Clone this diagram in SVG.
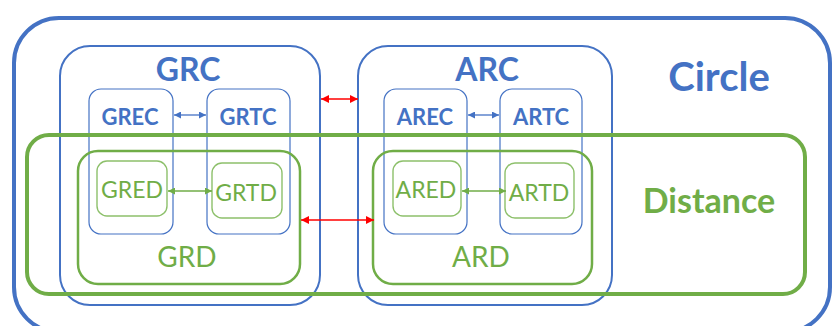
<svg xmlns="http://www.w3.org/2000/svg" width="833" height="326" viewBox="0 0 833 326">
  <defs>
    <marker id="ah-red" viewBox="0 0 10 10" refX="10" refY="5" markerWidth="8" markerHeight="8" markerUnits="userSpaceOnUse" orient="auto-start-reverse">
      <path d="M0,0 L10,5 L0,10 z" fill="#FF0000"/>
    </marker>
    <marker id="ah-blue" viewBox="0 0 10 10" refX="10" refY="5" markerWidth="7" markerHeight="7" markerUnits="userSpaceOnUse" orient="auto-start-reverse">
      <path d="M0,0 L10,5 L0,10 z" fill="#4472C4"/>
    </marker>
    <marker id="ah-green" viewBox="0 0 10 10" refX="10" refY="5" markerWidth="7" markerHeight="7" markerUnits="userSpaceOnUse" orient="auto-start-reverse">
      <path d="M0,0 L10,5 L0,10 z" fill="#70AD47"/>
    </marker>
  </defs>
  <style>
    rect { fill: none; }
    .circle { stroke: #4472C4; stroke-width: 4; }
    .region { stroke: #4472C4; stroke-width: 2; }
    .sub { stroke: #4472C4; stroke-width: 1.2; }
    .dist { stroke: #70AD47; stroke-width: 4; }
    .dreg { stroke: #70AD47; stroke-width: 2.5; }
    .dsub { stroke: #8DC06B; stroke-width: 1.4; }
    text { font-family: Lato, "Liberation Sans", sans-serif; text-anchor: middle; }
    .tb { fill: #4472C4; font-weight: bold; }
    .tg { fill: #70AD47; }
    .tgb { fill: #70AD47; font-weight: bold; }
    .red { stroke: #FF0000; stroke-width: 1.5; fill: none; }
    .bl { stroke: #4472C4; stroke-width: 1.3; fill: none; }
    .gr { stroke: #70AD47; stroke-width: 1.3; fill: none; }
  </style>

  <!-- outer Circle frame -->
  <g id="circle">
    <rect class="circle" x="14" y="18" width="816" height="314" rx="45" ry="45"/>
    <text class="tb" x="719" y="91" font-size="40">Circle</text>
  </g>

  <!-- GRC / ARC regions -->
  <g id="grc">
    <rect class="region" x="60" y="46" width="260" height="259" rx="30" ry="30"/>
    <text class="tb" x="188" y="81" font-size="32">GRC</text>
  </g>
  <g id="arc">
    <rect class="region" x="358" y="46" width="254" height="259" rx="30" ry="30"/>
    <text class="tb" x="487" y="81" font-size="32">ARC</text>
  </g>

  <!-- sub-circle boxes -->
  <g id="grec">
    <rect class="sub" x="89" y="89" width="84" height="145" rx="12" ry="12"/>
    <text class="tb" x="130" y="125" font-size="22">GREC</text>
  </g>
  <g id="grtc">
    <rect class="sub" x="207" y="89" width="83" height="145" rx="12" ry="12"/>
    <text class="tb" x="248" y="125" font-size="22">GRTC</text>
  </g>
  <g id="arec">
    <rect class="sub" x="384" y="89" width="83" height="145" rx="12" ry="12"/>
    <text class="tb" x="425" y="125" font-size="22">AREC</text>
  </g>
  <g id="artc">
    <rect class="sub" x="500" y="89" width="82" height="145" rx="12" ry="12"/>
    <text class="tb" x="541" y="125" font-size="22">ARTC</text>
  </g>

  <!-- Distance band -->
  <g id="distance">
    <rect class="dist" x="27" y="135" width="778" height="159" rx="22" ry="22"/>
    <text class="tgb" x="709" y="213" font-size="34">Distance</text>
  </g>

  <!-- GRD / ARD regions -->
  <g id="grd">
    <rect class="dreg" x="78" y="151" width="222" height="133" rx="20" ry="20"/>
    <text class="tg" x="187" y="267" font-size="28">GRD</text>
  </g>
  <g id="ard">
    <rect class="dreg" x="373" y="151" width="219" height="133" rx="20" ry="20"/>
    <text class="tg" x="481" y="267" font-size="28">ARD</text>
  </g>

  <!-- sub-distance boxes -->
  <g id="gred">
    <rect class="dsub" x="97" y="161" width="70" height="55" rx="10" ry="10"/>
    <text class="tg" x="132" y="198" font-size="23">GRED</text>
  </g>
  <g id="grtd">
    <rect class="dsub" x="212" y="163" width="70" height="55" rx="10" ry="10"/>
    <text class="tg" x="246" y="201" font-size="23">GRTD</text>
  </g>
  <g id="ared">
    <rect class="dsub" x="393" y="161" width="68" height="55" rx="10" ry="10"/>
    <text class="tg" x="426" y="198" font-size="23">ARED</text>
  </g>
  <g id="artd">
    <rect class="dsub" x="505" y="163" width="69" height="55" rx="10" ry="10"/>
    <text class="tg" x="539" y="201" font-size="23">ARTD</text>
  </g>

  <!-- connectors -->
  <g id="connectors">
    <line class="bl" x1="174" y1="115" x2="206" y2="115" marker-start="url(#ah-blue)" marker-end="url(#ah-blue)"/>
    <line class="bl" x1="468" y1="115" x2="499" y2="115" marker-start="url(#ah-blue)" marker-end="url(#ah-blue)"/>
    <line class="gr" x1="168" y1="191" x2="212" y2="191" marker-start="url(#ah-green)" marker-end="url(#ah-green)"/>
    <line class="gr" x1="462" y1="191" x2="506" y2="191" marker-start="url(#ah-green)" marker-end="url(#ah-green)"/>
    <line class="red" x1="321" y1="99" x2="358" y2="99" marker-start="url(#ah-red)" marker-end="url(#ah-red)"/>
    <line class="red" x1="301" y1="220" x2="374" y2="220" marker-start="url(#ah-red)" marker-end="url(#ah-red)"/>
  </g>
</svg>
